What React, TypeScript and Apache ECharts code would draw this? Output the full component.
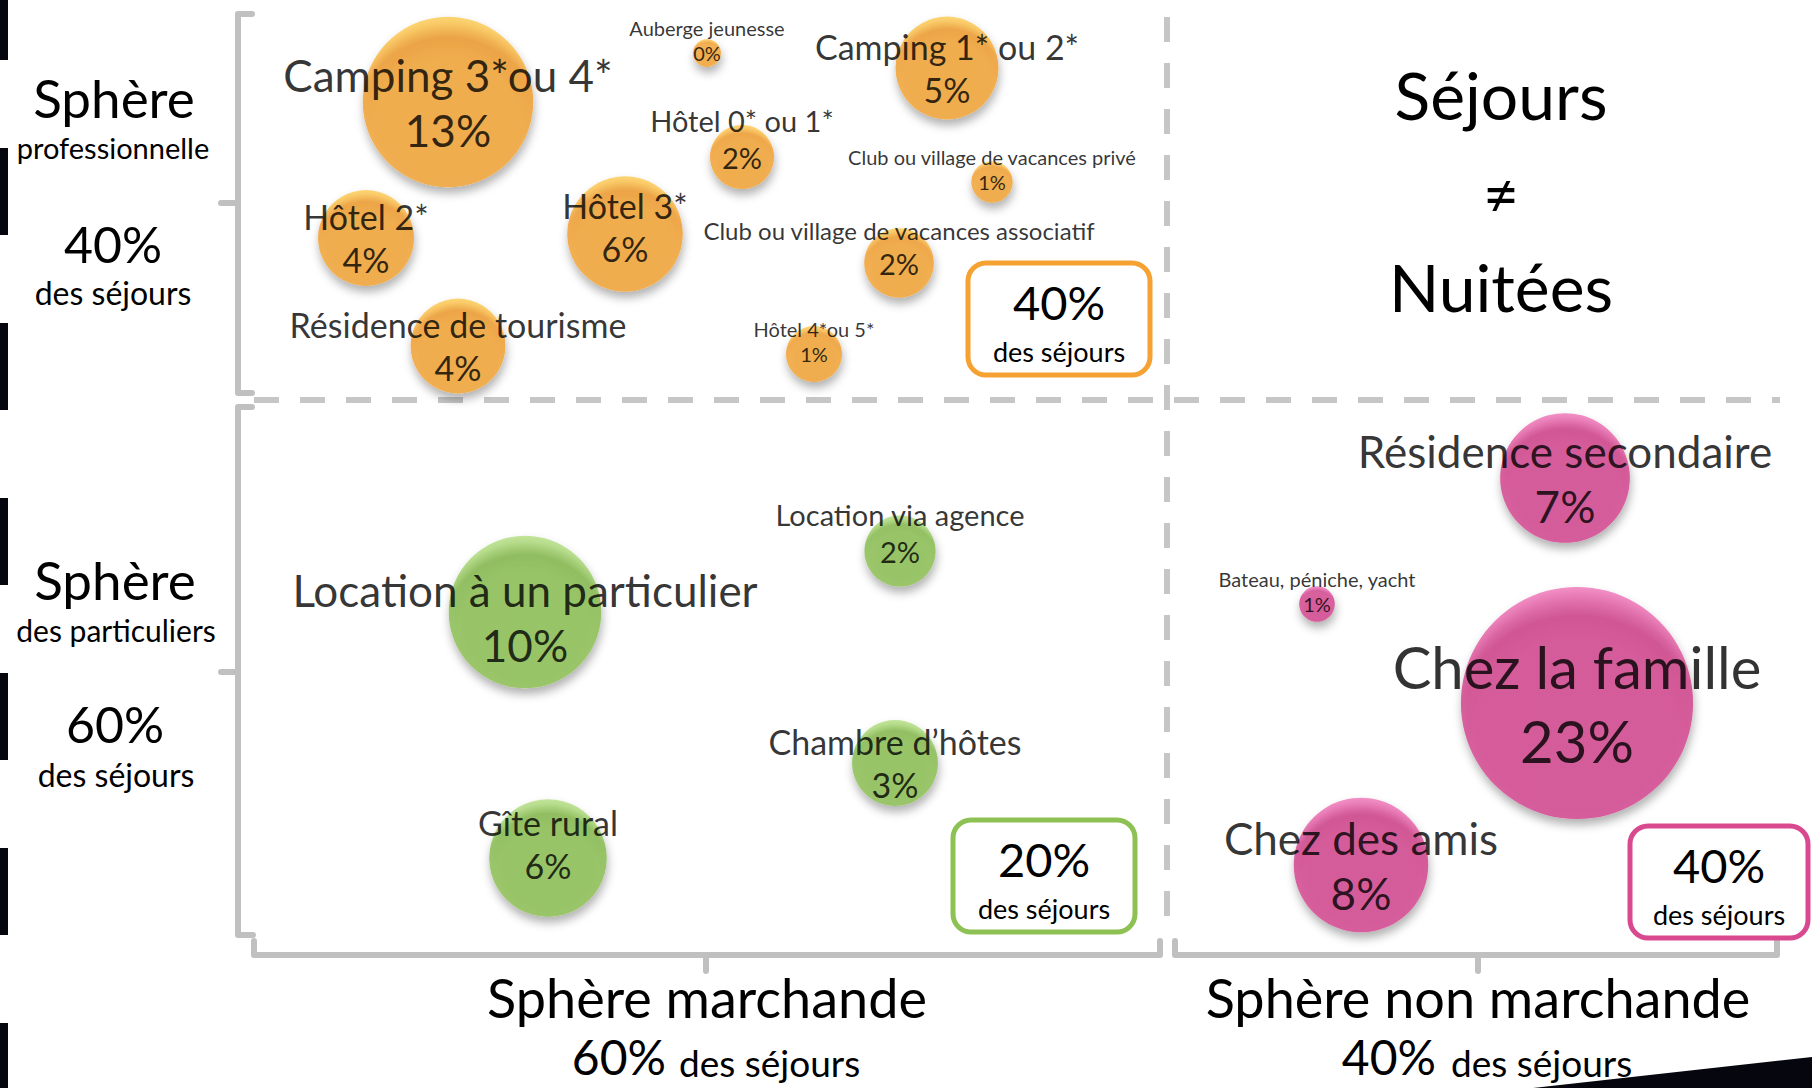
import React, { useEffect, useRef } from "react";
import * as echarts from "echarts";

const WIDTH = 1812;
const HEIGHT = 1088;
const FONT = "Lato, 'Open Sans', sans-serif";

// ---------- DATA ----------
// Sphère professionnelle (marchande) – orange bubbles
const proNames = [
  "Camping 3*ou 4*",
  "Auberge jeunesse",
  "Camping 1* ou 2*",
  "Hôtel 0* ou 1*",
  "Club ou village de vacances privé",
  "Hôtel 2*",
  "Hôtel 3*",
  "Club ou village de vacances associatif",
  "Résidence de tourisme",
  "Hôtel 4*ou 5*",
];
const proX = [448, 707, 947, 742, 992, 366, 625, 899, 458, 814];
const proY = [102, 53, 68, 157, 182, 238, 234, 263, 346, 354];
const proShare = [12.6, 0.34, 4.6, 1.78, 0.74, 4.0, 5.8, 2.1, 3.9, 1.36];

// Sphère des particuliers (marchande) – green bubbles
const partNames = ["Location à un particulier", "Location via agence", "Chambre d’hôtes", "Gîte rural"];
const partX = [525, 900, 895, 548];
const partY = [612, 551, 763, 858];
const partShare = [10.1, 2.2, 3.2, 6.0];

// Sphère non marchande – pink bubbles
const nonNames = ["Résidence secondaire", "Bateau, péniche, yacht", "Chez la famille", "Chez des amis"];
const nonX = [1565, 1317, 1577, 1361];
const nonY = [478, 604, 703, 865];
const nonShare = [7.3, 0.55, 23.4, 7.85];

// Totals shown in the boxes and the margins
const boxShares = [40, 20, 40]; // professionnelle, particuliers, non marchande
const rowLabels = ["professionnelle", "des particuliers"];
const rowShares = [40, 60];
const colLabels = ["Sphère marchande", "Sphère non marchande"];
const colShares = [60, 40];

// ---------- STYLE ----------
// small vertical nudges of some labels (pixels), kept apart from the data
const proLabelDy = [0, 0, 0, 0, 0, 0, -7, 0, 0, 0];
const partLabelDy = [5, 0, 0, -14];
const nonLabelDy = [0, 0, 0, 0];

const ORANGE = { light: "#FFDA5E", mid: "#FBC048", base: "#F5A532", dark: "#F09A2A", box: "#F5A232" };
const GREEN = { light: "#C3E890", mid: "#A8D774", base: "#8DC153", dark: "#84B94A", box: "#8DC153" };
const PINK = { light: "#FB8CCB", mid: "#E864AB", base: "#D6448F", dark: "#CF3E88", box: "#D9498F" };
const GRAY = "#C0C0C0";
const DARK = "#05060E";

function tierFont(s: number): number {
  if (s < 1.5) return 20;
  if (s < 2.5) return 29;
  if (s < 6.5) return 34;
  if (s < 15) return 44;
  return 58;
}

function buildData(names: string[], xs: number[], ys: number[], shares: number[], dys: number[]) {
  return names.map((name, i) => {
    const s = shares[i];
    const pfs = tierFont(s);
    const nfs = s >= 1.5 && s < 2.5 && name.length > 30 ? 24 : pfs;
    const nlh = Math.round(nfs * 1.27);
    const plh = Math.round(pfs * 1.25);
    const small = s < 2.5;
    return {
      name,
      value: [xs[i], ys[i], s],
      label: {
        offset: [0, (small ? -nlh / 2 : 0) + dys[i]],
        rich: {
          n: { fontSize: nfs, lineHeight: nlh, fontFamily: FONT, color: "#000" },
          p: { fontSize: pfs, lineHeight: plh, fontFamily: FONT, color: "#000" },
        },
      },
    };
  });
}

function bubbleSeries(id: string, data: any[], c: any) {
  return {
    type: "scatter",
    name: id,
    data,
    symbol: "circle",
    symbolSize: (v: number[]) => 48 * Math.sqrt(v[2]),
    itemStyle: {
      color: {
        type: "radial",
        x: 0.5,
        y: 0.68,
        r: 0.74,
        colorStops: [
          { offset: 0, color: c.base },
          { offset: 0.6, color: c.base },
          { offset: 0.75, color: c.dark },
          { offset: 0.86, color: c.mid },
          { offset: 1, color: c.light },
        ],
      },
      shadowBlur: 10,
      shadowOffsetY: 6,
      shadowOffsetX: 1,
      shadowColor: "rgba(0,0,0,0.38)",
    },
    label: {
      show: true,
      position: "inside",
      color: "#000",
      textBorderWidth: 0,
      formatter: (p: any) => `{n|${p.name}}\n{p|${Math.round(p.value[2])}%}`,
    },
    emphasis: { disabled: true },
    z: 3,
  };
}

function txt(text: string, x: number, y: number, size: number, align = "center", extra: any = {}) {
  return {
    type: "text",
    x,
    y,
    z: 5,
    style: {
      text,
      fontSize: size,
      fontFamily: FONT,
      fill: "#000",
      align,
      verticalAlign: "middle",
      ...extra,
    },
  };
}

function bracket(points: number[][]) {
  return {
    type: "polyline",
    z: 1,
    shape: { points },
    style: { stroke: GRAY, lineWidth: 6, fill: "none", lineCap: "round", lineJoin: "round" },
  };
}

function dashed(x1: number, y1: number, x2: number, y2: number) {
  return {
    type: "line",
    z: 1,
    shape: { x1, y1, x2, y2 },
    style: { stroke: "#C6C6C6", lineWidth: 6, lineDash: [25, 21] },
  };
}

function box(x: number, y: number, w: number, h: number, color: string, share: number) {
  const cx = x + w / 2;
  return [
    {
      type: "rect",
      z: 2,
      shape: { x, y, width: w, height: h, r: 18 },
      style: { fill: "#fff", stroke: color, lineWidth: 5 },
    },
    txt(`${share}%`, cx, y + 39, 47),
    txt("des séjours", cx, y + 88, 27),
  ];
}

export default function App() {
  const ref = useRef<HTMLDivElement>(null);

  useEffect(() => {
    document.body.style.margin = "0";
    document.body.style.overflow = "hidden";
    if (!ref.current) return;
    const chart = echarts.init(ref.current, undefined, { renderer: "svg" });

    const bars: any[] = [];
    for (let k = 0; k < 7; k++) {
      const y0 = -27 + 175 * k;
      bars.push({ type: "rect", z: 2, shape: { x: 0, y: y0, width: 8, height: 87 }, style: { fill: DARK } });
    }

    const graphics: any[] = [
      ...bars,
      // left brackets
      bracket([[252, 14], [238, 14], [238, 393], [252, 393]]),
      bracket([[238, 203], [221, 203]]),
      bracket([[252, 407], [238, 407], [238, 935], [253, 935]]),
      bracket([[238, 672], [221, 672]]),
      // bottom brackets
      bracket([[254, 941], [254, 955], [1160, 955], [1160, 941]]),
      bracket([[706, 955], [706, 971]]),
      bracket([[1175, 941], [1175, 955], [1777, 955], [1777, 941]]),
      bracket([[1478, 955], [1478, 971]]),
      // dashed separators
      dashed(254, 400, 1780, 400),
      dashed(1167, 17, 1167, 935),
      // boxes
      ...box(968, 263, 182, 112, ORANGE.box, boxShares[0]),
      ...box(953, 820, 182, 112, GREEN.box, boxShares[1]),
      ...box(1630, 826, 178, 112, PINK.box, boxShares[2]),
      // left labels
      txt("Sphère", 114, 97, 53),
      txt(rowLabels[0], 113, 147, 29),
      txt(`${rowShares[0]}%`, 113, 244, 50),
      txt("des séjours", 113, 292, 32),
      txt("Sphère", 115, 579, 53),
      txt(rowLabels[1], 116, 630, 30),
      txt(`${rowShares[1]}%`, 115, 724, 50),
      txt("des séjours", 116, 774, 32),
      // bottom labels
      txt(colLabels[0], 707, 997, 54),
      txt(`${colShares[0]}%`, 666, 1056, 48, "right"),
      txt("des séjours", 679, 1062, 37, "left"),
      txt(colLabels[1], 1478, 997, 54),
      txt(`${colShares[1]}%`, 1436, 1056, 48, "right"),
      txt("des séjours", 1451, 1062, 37, "left"),
      // right title
      txt("Séjours", 1501, 94, 66),
      txt("≠", 1501, 193, 62),
      txt("Nuitées", 1501, 286, 66),
      // dark wedge bottom right
      {
        type: "polygon",
        z: 100,
        shape: { points: [[1533, 1088], [1812, 1057], [1812, 1088]] },
        style: { fill: DARK },
      },
    ];

    chart.setOption({
      animation: false,
      backgroundColor: "#ffffff",
      grid: { left: 0, right: 0, top: 0, bottom: 0, containLabel: false },
      xAxis: { type: "value", min: 0, max: WIDTH, show: false },
      yAxis: { type: "value", min: 0, max: HEIGHT, inverse: true, show: false },
      tooltip: { show: false },
      graphic: { elements: graphics },
      series: [
        bubbleSeries("professionnelle", buildData(proNames, proX, proY, proShare, proLabelDy), ORANGE),
        bubbleSeries("particuliers", buildData(partNames, partX, partY, partShare, partLabelDy), GREEN),
        bubbleSeries("non marchande", buildData(nonNames, nonX, nonY, nonShare, nonLabelDy), PINK),
      ],
    });

    return () => chart.dispose();
  }, []);

  return <div ref={ref} style={{ width: WIDTH, height: HEIGHT }} />;
}
